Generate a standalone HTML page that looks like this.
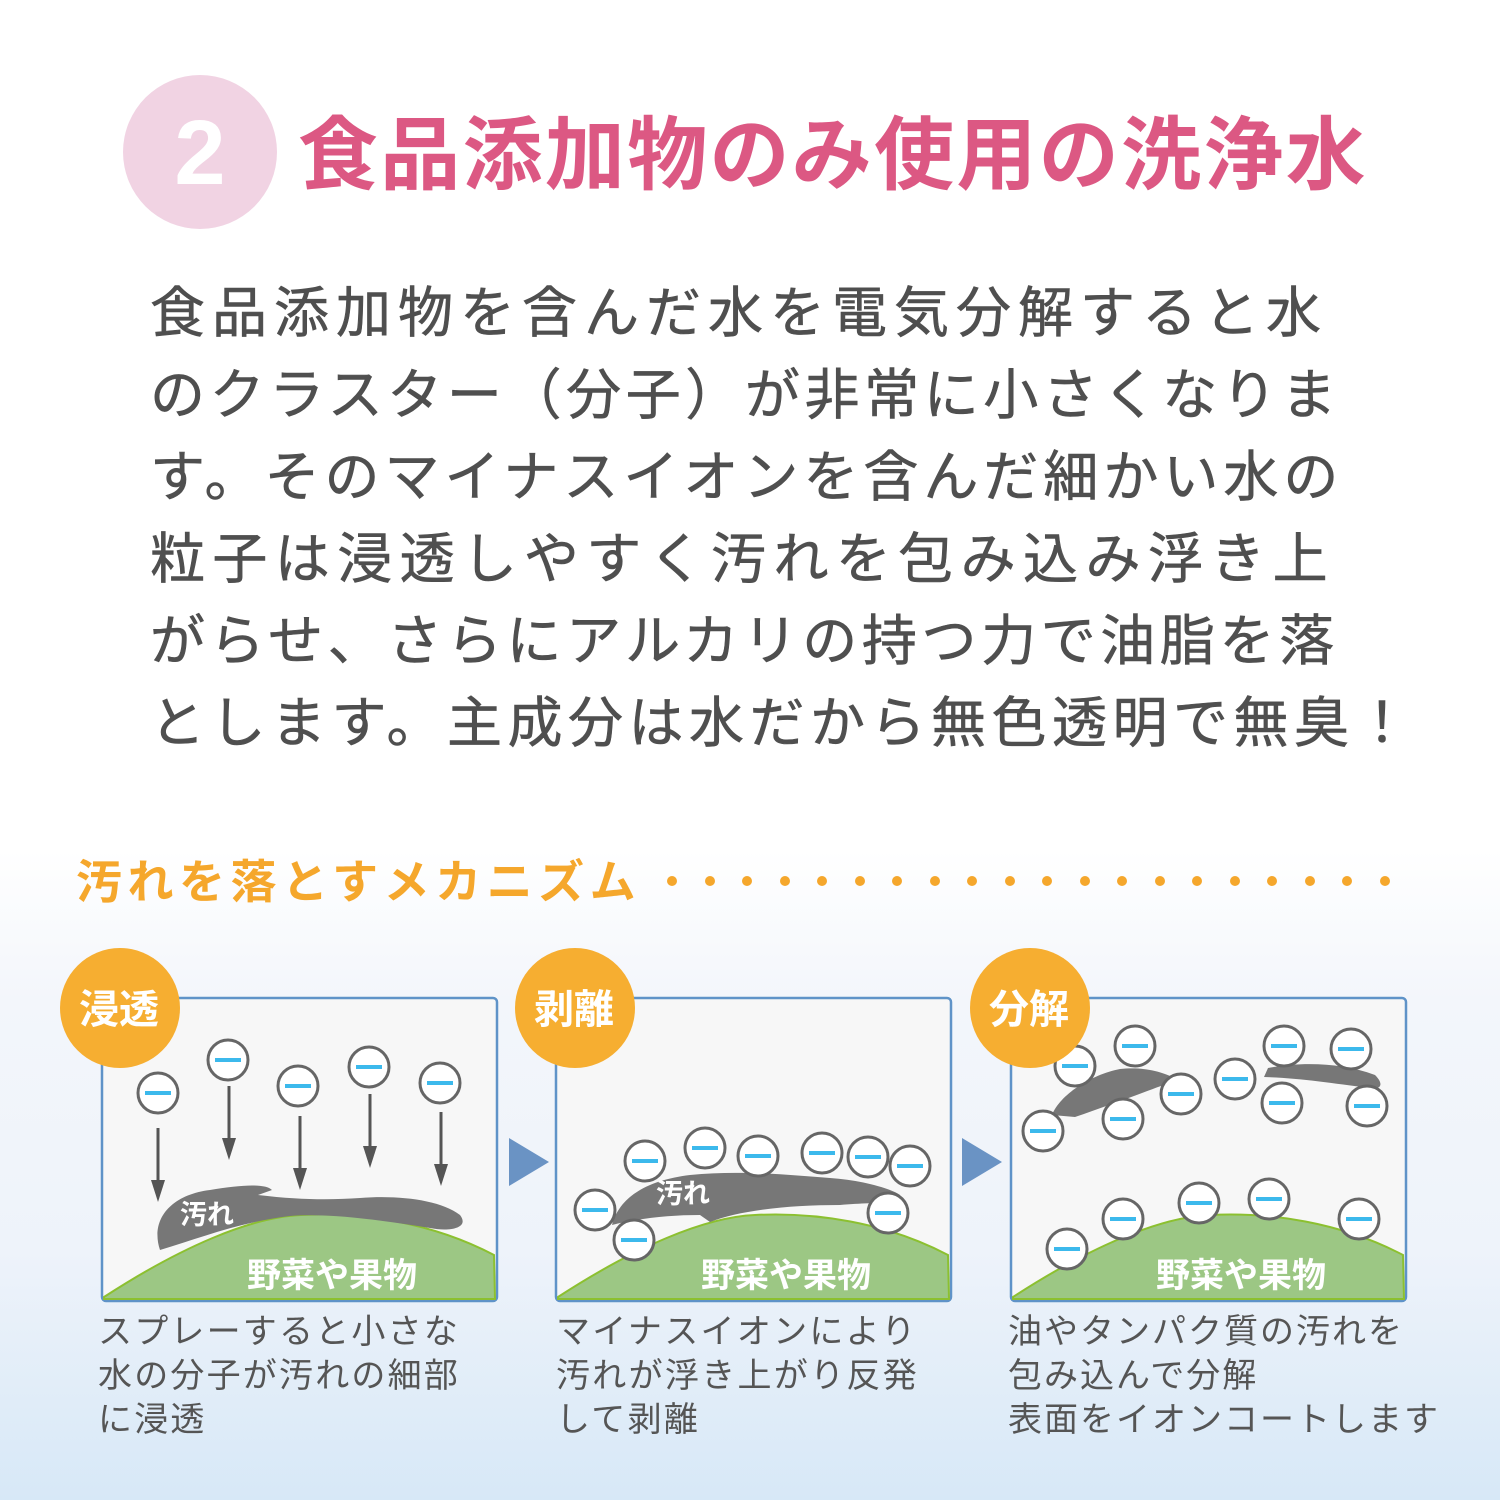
<!DOCTYPE html>
<html><head><meta charset="utf-8"><style>
html,body{margin:0;padding:0}
body{width:1500px;height:1500px;overflow:hidden;background:linear-gradient(#fff 0,#fff 850px,#f3f6fb 1000px,#eef3fa 1250px,#d7e8f7 1500px);font-family:"Liberation Sans","Noto Sans CJK JP",sans-serif;position:relative}
.t{position:absolute;white-space:nowrap}
.b span{display:block}
</style></head><body>
<div class="t" style="left:123px;top:75px;width:154px;height:154px;border-radius:50%;background:#f1d3e3"></div>
<div class="t" style="left:123px;top:98px;width:154px;text-align:center;font-size:92px;font-weight:bold;color:#fff;line-height:110px">2</div>
<div class="t" style="left:298px;top:108px;font-size:80px;font-weight:bold;color:#dc5883;line-height:96px;letter-spacing:2.3px">食品添加物のみ使用の洗浄水</div>
<div class="t b" style="left:150px;top:272px;font-size:55px;color:#4f4f4f;line-height:82px;letter-spacing:7px;-webkit-text-stroke:0.6px #4f4f4f"><span>食品添加物を含んだ水を電気分解すると水</span><span style="letter-spacing:4.6px">のクラスター（分子）が非常に小さくなりま</span><span style="letter-spacing:5px">す。そのマイナスイオンを含んだ細かい水の</span><span style="letter-spacing:7.4px">粒子は浸透しやすく汚れを包み込み浮き上</span><span style="letter-spacing:4.6px">がらせ、さらにアルカリの持つ力で油脂を落</span><span style="letter-spacing:5.5px">とします。主成分は水だから無色透明で無臭！</span></div>
<div class="t" style="left:76px;top:852px;font-size:46px;font-weight:bold;color:#f5a72c;line-height:60px;letter-spacing:5.5px">汚れを落とすメカニズム</div>
<svg class="t" style="left:0;top:0" width="1500" height="1500">
<g fill="#f5a72c">
<circle cx="672" cy="881" r="5"/><circle cx="710" cy="881" r="5"/><circle cx="747" cy="881" r="5"/><circle cx="785" cy="881" r="5"/><circle cx="822" cy="881" r="5"/><circle cx="860" cy="881" r="5"/><circle cx="897" cy="881" r="5"/><circle cx="935" cy="881" r="5"/><circle cx="972" cy="881" r="5"/><circle cx="1010" cy="881" r="5"/><circle cx="1047" cy="881" r="5"/><circle cx="1085" cy="881" r="5"/><circle cx="1122" cy="881" r="5"/><circle cx="1160" cy="881" r="5"/><circle cx="1197" cy="881" r="5"/><circle cx="1235" cy="881" r="5"/><circle cx="1272" cy="881" r="5"/><circle cx="1310" cy="881" r="5"/><circle cx="1347" cy="881" r="5"/><circle cx="1385" cy="881" r="5"/>
</g>
<defs>
<g id="ion"><circle r="20" fill="#fff" stroke="#666" stroke-width="3"/><rect x="-13" y="-2" width="26" height="4" fill="#3cb9ec"/></g>
<g id="arr"><line x1="0" y1="0" x2="0" y2="60" stroke="#555" stroke-width="3"/><path d="M-7,52 L7,52 L0,74Z" fill="#555"/></g>
<g id="panel">
<rect x="1" y="1" width="395" height="303" rx="4" fill="#f7f7f7" stroke="#5f93c8" stroke-width="2.5"/>
<path d="M3,300 C80,250 150,220 200,218 C260,215 330,225 393,258 L394,302 L3,302 Z" fill="#9cc784" stroke="#8cc030" stroke-width="2"/>
<text x="146" y="290" font-size="34" font-weight="bold" fill="#fff" font-family="Liberation Sans,Noto Sans CJK JP,sans-serif">野菜や果物</text>
</g>
</defs>
<use href="#panel" x="101" y="997"/>
<use href="#panel" x="555" y="997"/>
<use href="#panel" x="1010" y="997"/>
<path d="M160,1250 C150,1220 170,1195 210,1190 C240,1185 265,1183 272,1190 L258,1195 C300,1200 330,1200 360,1198 C400,1195 440,1200 460,1215 C470,1228 450,1232 430,1228 C380,1220 330,1213 290,1216 C240,1222 200,1238 160,1250Z" fill="#777"/>
<text x="180" y="1224" font-size="27" font-weight="bold" fill="#fff" font-family="Liberation Sans,Noto Sans CJK JP,sans-serif">汚れ</text>
<path d="M612,1225 C620,1195 650,1180 690,1175 C740,1170 790,1175 830,1178 C860,1180 890,1188 900,1195 C895,1205 870,1202 840,1205 C790,1205 740,1210 710,1222 L700,1215 C670,1215 640,1218 612,1225Z" fill="#777"/>
<text x="656" y="1203" font-size="27" font-weight="bold" fill="#fff" font-family="Liberation Sans,Noto Sans CJK JP,sans-serif">汚れ</text>
<path d="M1052,1115 C1060,1095 1090,1075 1120,1069 C1150,1066 1170,1075 1177,1080 C1150,1090 1110,1105 1075,1117Z" fill="#777"/>
<path d="M1264,1077 L1268,1068 C1300,1062 1340,1062 1375,1075 C1385,1085 1380,1090 1370,1088 C1330,1083 1300,1078 1264,1077Z" fill="#777"/>
<use href="#arr" x="158" y="1128"/>
<use href="#arr" x="229" y="1086"/>
<use href="#arr" x="300" y="1116"/>
<use href="#arr" x="370" y="1094"/>
<use href="#arr" x="441" y="1112"/>
<use href="#ion" x="158" y="1093"/><use href="#ion" x="228" y="1060"/><use href="#ion" x="298" y="1086"/><use href="#ion" x="369" y="1067"/><use href="#ion" x="440" y="1083"/>
<use href="#ion" x="595" y="1210"/><use href="#ion" x="634" y="1240"/><use href="#ion" x="645" y="1161"/><use href="#ion" x="705" y="1148"/><use href="#ion" x="758" y="1156"/><use href="#ion" x="822" y="1153"/><use href="#ion" x="868" y="1157"/><use href="#ion" x="910" y="1166"/><use href="#ion" x="888" y="1213"/>
<use href="#ion" x="1043" y="1131"/><use href="#ion" x="1075" y="1066"/><use href="#ion" x="1135" y="1046"/><use href="#ion" x="1123" y="1119"/><use href="#ion" x="1181" y="1094"/><use href="#ion" x="1235" y="1079"/><use href="#ion" x="1284" y="1046"/><use href="#ion" x="1351" y="1049"/><use href="#ion" x="1282" y="1103"/><use href="#ion" x="1367" y="1106"/><use href="#ion" x="1067" y="1249"/><use href="#ion" x="1123" y="1219"/><use href="#ion" x="1199" y="1203"/><use href="#ion" x="1269" y="1199"/><use href="#ion" x="1359" y="1219"/>
<path d="M509,1138 L549,1162 L509,1186Z" fill="#6a93c4"/>
<path d="M962,1138 L1002,1162 L962,1186Z" fill="#6a93c4"/>
<g fill="#f6ae31"><circle cx="120" cy="1008" r="60"/><circle cx="575" cy="1008" r="60"/><circle cx="1030" cy="1008" r="60"/></g>
<g fill="#fff" font-size="40" font-weight="bold" font-family="Liberation Sans,Noto Sans CJK JP,sans-serif" text-anchor="middle">
<text x="119" y="1023">浸透</text><text x="574" y="1023">剥離</text><text x="1029" y="1023">分解</text></g>
</svg>
<div class="t" style="left:98px;top:1310px;font-size:34px;color:#555;line-height:44px;letter-spacing:2.2px">スプレーすると小さな<br>水の分子が汚れの細部<br>に浸透</div>
<div class="t" style="left:556px;top:1310px;font-size:34px;color:#555;line-height:44px;letter-spacing:2.3px">マイナスイオンにより<br>汚れが浮き上がり反発<br>して剥離</div>
<div class="t" style="left:1008px;top:1310px;font-size:34px;color:#555;line-height:44px;letter-spacing:2px">油やタンパク質の汚れを<br>包み込んで分解<br>表面をイオンコートします</div>
</body></html>
